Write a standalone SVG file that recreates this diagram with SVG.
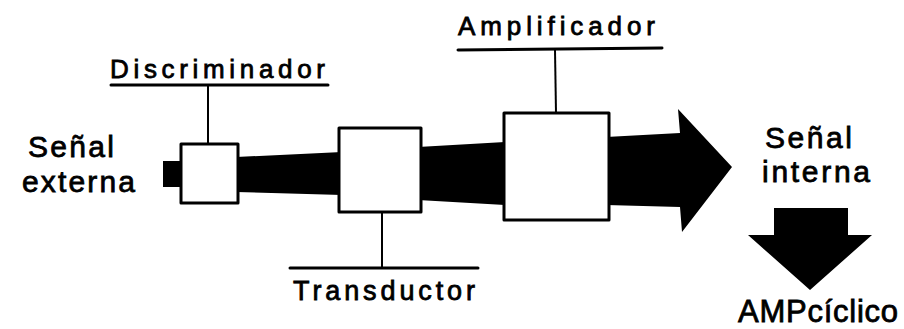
<svg xmlns="http://www.w3.org/2000/svg" width="904" height="329" viewBox="0 0 904 329">
  <style>
    .lbl { font-family: "Liberation Sans", "DejaVu Sans", sans-serif; fill: #000; stroke: #000; stroke-width: 0.8; }
    .box { fill: #fff; stroke: #000; stroke-width: 3; stroke-linejoin: round; }
    .rule { stroke: #000; stroke-width: 3; stroke-linecap: round; }
    .lead { stroke: #000; stroke-width: 2; }
    .flow { fill: #000; }
  </style>
  <rect width="904" height="329" fill="#fff"/>

  <!-- signal flow band and arrows -->
  <g id="connectors">
    <rect class="flow" x="163" y="161" width="20" height="26"/>
    <polygon class="flow" points="236,157 342,152 342,195 236,192"/>
    <polygon class="flow" points="418,147 505,142 505,205 418,200"/>
    <polygon class="flow" points="606,137 680,133 678,109 732,167 682,232 680,207 606,205"/>
    <polygon id="down-arrow" class="flow" points="774,208 848,208 848,235 872,235 810,290 748,235 774,235"/>
  </g>

  <!-- outer signal labels -->
  <g id="senal-externa">
    <text class="lbl" x="28" y="157" font-size="30" textLength="86" lengthAdjust="spacing">Señal</text>
    <text class="lbl" x="22" y="192" font-size="30" textLength="113" lengthAdjust="spacing">externa</text>
  </g>
  <g id="senal-interna">
    <text class="lbl" x="765" y="148" font-size="30" textLength="87" lengthAdjust="spacing">Señal</text>
    <text class="lbl" x="762" y="182" font-size="30" textLength="108" lengthAdjust="spacing">interna</text>
  </g>
  <g id="amp-ciclico">
    <text class="lbl" x="738" y="322" font-size="31" textLength="160" lengthAdjust="spacing">AMPcíclico</text>
  </g>

  <!-- Discriminador -->
  <g id="discriminador">
    <text class="lbl" x="110" y="78" font-size="26" textLength="215" lengthAdjust="spacing">Discriminador</text>
    <line class="rule" x1="111" y1="85" x2="328" y2="85"/>
    <line class="lead" x1="208" y1="85" x2="208" y2="144"/>
    <rect class="box" x="181" y="144" width="57" height="59"/>
  </g>

  <!-- Transductor -->
  <g id="transductor">
    <rect class="box" x="339" y="128" width="82" height="84"/>
    <line class="lead" x1="382" y1="212" x2="382" y2="268"/>
    <line class="rule" x1="290" y1="268" x2="478" y2="268"/>
    <text class="lbl" x="293" y="300" font-size="27" textLength="182" lengthAdjust="spacing">Transductor</text>
  </g>

  <!-- Amplificador -->
  <g id="amplificador">
    <text class="lbl" x="458" y="35" font-size="26" textLength="197" lengthAdjust="spacing">Amplificador</text>
    <line class="rule" x1="458" y1="50" x2="662" y2="48"/>
    <line class="lead" x1="555" y1="50" x2="556" y2="113"/>
    <rect class="box" x="504" y="113" width="105" height="107"/>
  </g>
</svg>
